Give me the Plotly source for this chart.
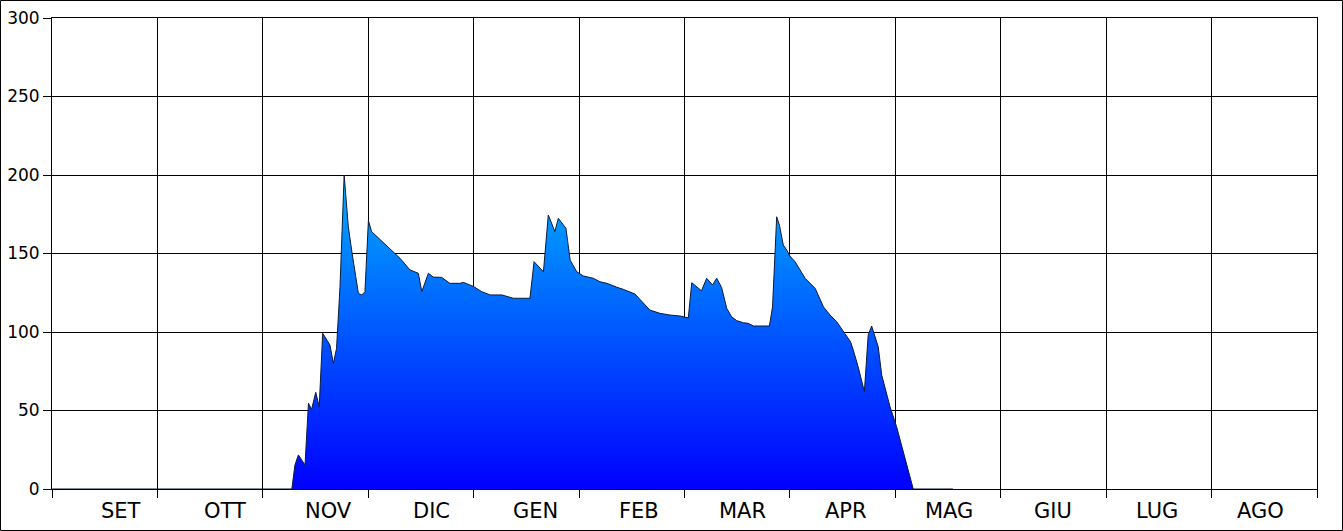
import plotly.graph_objects as go

# Month labels (season Sept -> Aug)
months = ["SET", "OTT", "NOV", "DIC", "GEN", "FEB", "MAR", "APR", "MAG", "GIU", "LUG", "AGO"]
days_per_month = 365 / 12

# Snow depth (cm) – day index from 1 Sept, value
day = [0, 69.2, 70.1, 71.1, 73.0, 74.0, 74.9, 76.1, 77.1, 78.1, 80.2, 81.2, 82.1, 83.1,
       84.3, 85.5, 86.6, 87.7, 88.4, 89.4, 90.3, 91.3, 92.2, 100.4, 103.3, 105.7, 106.7,
       108.6, 110.0, 112.4, 114.8, 117.7, 118.7, 121.6, 124.0, 126.4, 129.8, 133.1, 137.9,
       139.1, 141.8, 143.2, 145.1, 146.1, 148.3, 149.5, 151.4, 153.3, 156.2, 158.1, 160.1,
       163.0, 164.8, 168.2, 169.7, 172.5, 175.4, 178.3, 181.2, 183.6, 184.6, 187.4, 188.9,
       190.6, 191.8, 193.2, 194.7, 196.1, 197.6, 199.5, 200.9, 202.4, 207.0, 207.9, 209.1,
       209.9, 211.0, 212.0, 212.9, 214.4, 217.3, 220.2, 222.6, 224.5, 226.4, 228.3, 230.4,
       231.2, 232.6, 234.4, 235.5, 236.5, 238.4, 239.4, 240.3, 241.8, 243.7, 248.5, 260.0]
depth = [0, 0, 15.3, 21.7, 15.3, 54.6, 50.7, 61.6, 52.4, 99.2, 91.7, 80, 89.6, 128.8,
         200, 167, 150, 135, 124.6, 123.6, 125.7, 171, 164, 147, 139.5, 137.4, 125.7,
         137.4, 135, 134.8, 131, 131, 131.6, 129, 125.7, 123.6, 123.6, 121.5, 121.5,
         144.8, 138.4, 174.5, 164, 172.4, 166, 145.8, 138.4, 135.7, 134.2, 132, 131,
         128.5, 127.2, 124.2, 120.4, 114, 111.9, 110.8, 110.2, 109, 131.4, 126.3, 134.2,
         130, 134.2, 128.4, 115, 109.7, 107.2, 105.9, 105.5, 103.8, 103.8, 116, 173.4,
         168, 155.4, 152.2, 148.4, 144.8, 134.2, 127.8, 116, 110.8, 106.6, 100.2, 93.8,
         88.5, 77.9, 62, 98, 103.8, 90.6, 72.6, 65.2, 52.4, 39.7, 0, 0]

y_ticks = [0, 50, 100, 150, 200, 250, 300]

month_edges = [i * days_per_month for i in range(13)]

# label placement (layout): first label offset and spacing in day units
label_start, label_step = 19.9, 29.88
label_pos = [label_start + label_step * i for i in range(len(months))]

fig = go.Figure()
fig.add_trace(go.Scatter(
    x=day, y=depth, mode="lines",
    line=dict(color="#0a1a3a", width=1),
    fill="tozeroy",
    fillgradient=dict(type="vertical",
                      colorscale=[[0, "rgb(0,0,255)"], [1, "rgb(0,175,255)"]],
                      start=0, stop=200),
    hoverinfo="skip",
    showlegend=False,
))

for c, m in zip(label_pos, months):
    fig.add_annotation(x=c, y=0, xref="x", yref="paper", text=m, showarrow=False,
                       yanchor="middle", yshift=-22,
                       font=dict(family="DejaVu Sans", size=21, color="black"))

L, R, T, B = 52, 26, 18, 42
W, H = 1343, 531
pw, ph = W - L - R, H - T - B
fig.add_shape(type="rect", xref="paper", yref="paper",
              x0=(0.5 - L) / pw, x1=(W - 0.5 - L) / pw,
              y0=(H - B - (H - 0.5)) / ph, y1=(H - B - 0.5) / ph,
              line=dict(color="black", width=1), fillcolor="rgba(0,0,0,0)", layer="below")

fig.update_layout(
    width=W, height=H,
    margin=dict(l=L, r=R, t=T, b=B, pad=0, autoexpand=False),
    paper_bgcolor="white", plot_bgcolor="white",
    font=dict(family="DejaVu Sans", size=17, color="black"),
    xaxis=dict(range=[0, 365], tickvals=month_edges, ticktext=[""] * 13,
               ticks="outside", ticklen=8, tickcolor="black",
               showgrid=True, gridcolor="black", gridwidth=1,
               showline=True, linecolor="black", linewidth=1, mirror=True,
               zeroline=False, fixedrange=True, automargin=False),
    yaxis=dict(range=[0, 300], tickvals=y_ticks,
               ticks="outside", ticklen=8, tickcolor="black",
               showgrid=True, gridcolor="black", gridwidth=1,
               showline=True, linecolor="black", linewidth=1, mirror=True,
               zeroline=False, fixedrange=True, automargin=False,
               tickfont=dict(family="DejaVu Sans", size=17)),
)

fig.write_html("out.html",
               config={"displayModeBar": False, "staticPlot": True},
               post_script="document.body.style.margin='0px';document.body.style.padding='0px';")
